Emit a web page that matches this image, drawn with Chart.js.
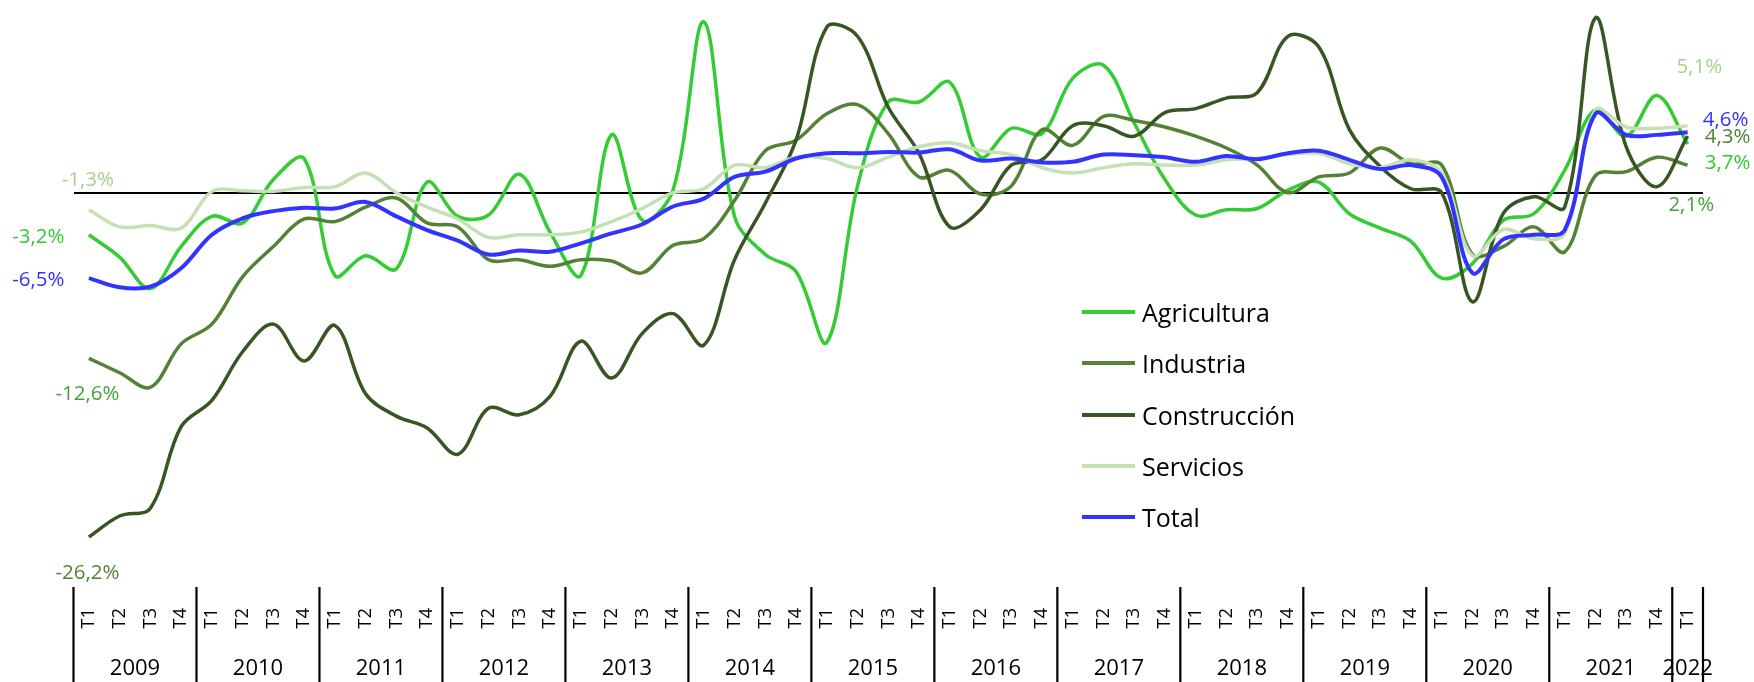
<!DOCTYPE html>
<html lang="es">
<head>
<meta charset="utf-8">
<title>Ocupados por sector (variación interanual)</title>
<script src="https://cdn.jsdelivr.net/npm/chart.js@4.4.1/dist/chart.umd.min.js"></script>
<style>
  html, body { margin: 0; padding: 0; background: #fff; }
  #wrap { position: relative; width: 1754px; height: 682px; }
  #legend { position: absolute; left: 1082px; top: 286.8px; font-family: 'Open Sans', sans-serif; font-size: 25px; color: #000; }
  #legend .item { display: flex; align-items: center; height: 51.1px; white-space: nowrap; }
  #legend .line { display: inline-block; width: 53px; height: 4px; margin-right: 7px; }
</style>
</head>
<body>
<div id="wrap">
  <canvas id="chart"></canvas>
  <div id="legend"></div>
</div>
<script>
// ================= DATOS =================
const years = ['2009', '2010', '2011', '2012', '2013', '2014', '2015', '2016', '2017', '2018', '2019', '2020', '2021', '2022'];
const quarterNames = ['T1', 'T2', 'T3', 'T4'];
const quartersInYear = [4, 4, 4, 4, 4, 4, 4, 4, 4, 4, 4, 4, 4, 1];

const seriesNames = ['Agricultura', 'Industria', 'Construcción', 'Servicios', 'Total'];

const agricultura = [
  -3.2, -4.9, -7.3, -4.1, -1.8, -2.3, 1.0, 2.6, -6.3, -4.8, -5.8, 0.8, -1.8, -1.7, 1.4, -3.0,
  -6.3, 4.4, -2.1, 0.2, 13.0, -1.8, -4.7, -6.0, -11.4, 0.5, 6.9, 6.9, 8.4, 2.7, 4.9, 4.5,
  8.7, 9.7, 5.3, 1.0, -1.7, -1.3, -1.2, 0.2, 0.8, -1.6, -2.7, -3.7, -6.5, -5.4, -2.1, -1.6,
  1.7, 6.3, 4.3, 7.4, 3.7
];
const industria = [
  -12.6, -13.7, -14.8, -11.5, -10.0, -6.4, -4.1, -2.0, -2.2, -1.1, -0.4, -2.3, -2.6, -5.1, -5.1, -5.6,
  -5.1, -5.2, -6.1, -4.0, -3.5, -0.6, 3.2, 4.0, 6.0, 6.7, 4.5, 1.2, 1.7, -0.1, 0.5, 4.8,
  3.6, 5.8, 5.5, 5.0, 4.3, 3.4, 2.1, 0.0, 1.2, 1.5, 3.4, 2.2, 2.1, -4.7, -4.1, -2.6,
  -4.5, 1.3, 1.6, 2.7, 2.1
];
const construccion = [
  -26.2, -24.6, -24.0, -17.8, -15.8, -12.1, -10.0, -12.8, -10.1, -15.3, -17.0, -17.9, -19.9, -16.4, -16.9, -15.5,
  -11.3, -14.1, -10.7, -9.2, -11.6, -5.1, -0.8, 4.0, 12.6, 11.9, 6.5, 3.0, -2.6, -1.3, 2.1, 2.5,
  5.1, 5.1, 4.3, 6.1, 6.4, 7.2, 7.6, 11.9, 11.1, 4.8, 2.0, 0.3, 0.0, -8.3, -1.6, -0.3,
  -1.1, 13.3, 3.5, 0.45, 4.3
];
const servicios = [
  -1.3, -2.6, -2.5, -2.7, 0.1, 0.15, 0.1, 0.4, 0.45, 1.5, 0.0, -1.1, -2.0, -3.4, -3.2, -3.2,
  -3.0, -2.2, -1.2, 0.0, 0.3, 2.1, 1.9, 2.7, 2.6, 1.9, 2.7, 3.5, 3.8, 3.2, 2.9, 1.9,
  1.5, 1.9, 2.2, 2.1, 2.1, 2.5, 2.6, 2.9, 3.0, 2.2, 1.9, 2.5, 1.5, -4.8, -2.8, -3.5,
  -3.1, 6.3, 5.0, 4.9, 5.1
];
const total = [
  -6.5, -7.2, -7.15, -5.75, -3.2, -1.95, -1.4, -1.15, -1.2, -0.7, -1.8, -2.85, -3.65, -4.7, -4.4, -4.5,
  -3.85, -3.1, -2.4, -1.05, -0.45, 1.2, 1.6, 2.6, 3.0, 3.0, 3.1, 3.05, 3.3, 2.45, 2.6, 2.3,
  2.35, 2.9, 2.85, 2.7, 2.35, 2.8, 2.55, 3.0, 3.2, 2.5, 1.8, 2.1, 1.2, -6.1, -3.55, -3.2,
  -2.85, 6.0, 4.4, 4.4, 4.6
];

// etiquetas T1..T4 por trimestre
const trimestres = [];
years.forEach((y, i) => {
  for (let q = 0; q < quartersInYear[i]; q++) trimestres.push(quarterNames[q]);
});

// ================= ESTILOS =================
const colores = ['#33cc33', '#548235', '#375623', '#c5e0b4', '#3333ff'];
const grosores = [3.5, 3.5, 3.5, 3.5, 4];
const FONT = "'Open Sans', sans-serif";

Chart.defaults.font.family = FONT;
Chart.defaults.color = '#000';

// etiquetas de valor: serie, punto (primero/último), desplazamiento y color
const etiquetas = [
  { serie: 3, punto: 0, dx: -1, dy: -30, color: '#a9d18e' },
  { serie: 0, punto: 0, dx: -50.6, dy: 2.5, color: '#33cc33' },
  { serie: 4, punto: 0, dx: -50.6, dy: 2, color: '#3333ff' },
  { serie: 1, punto: 0, dx: -1.4, dy: 35.7, color: '#43a33b' },
  { serie: 2, punto: 0, dx: -1.4, dy: 36, color: '#548235' },
  { serie: 3, punto: -1, dx: 11.6, dy: -58.4, color: '#a9d18e' },
  { serie: 4, punto: -1, dx: 38, dy: -12.2, color: '#3333ff' },
  { serie: 2, punto: -1, dx: 40, dy: 0.5, color: '#548235' },
  { serie: 0, punto: -1, dx: 40, dy: 19.2, color: '#33cc33' },
  { serie: 1, punto: -1, dx: 3.6, dy: 40, color: '#43a33b' }
];

function formatoPct(v) {
  return v.toFixed(1).replace('.', ',') + '%';
}

// ================= PLUGIN: años, separadores y etiquetas =================
const decoracion = {
  id: 'decoracion',
  afterDatasetsDraw(chart) {
    const ctx = chart.ctx;
    ctx.save();
    ctx.font = '20.5px ' + FONT;
    ctx.textAlign = 'center';
    ctx.textBaseline = 'middle';
    etiquetas.forEach(e => {
      const meta = chart.getDatasetMeta(e.serie);
      const data = chart.data.datasets[e.serie].data;
      const idx = e.punto < 0 ? data.length - 1 : e.punto;
      const pt = meta.data[idx];
      ctx.fillStyle = e.color;
      ctx.fillText(formatoPct(data[idx]), pt.x + e.dx, pt.y + e.dy);
    });
    ctx.restore();
  },
  afterDraw(chart) {
    const { ctx, chartArea, scales: { x } } = chart;
    const half = (x.getPixelForValue(1) - x.getPixelForValue(0)) / 2;
    ctx.save();
    ctx.strokeStyle = '#000';
    ctx.lineWidth = 2.2;
    ctx.fillStyle = '#000';
    ctx.font = '22px ' + FONT;
    ctx.textAlign = 'center';
    ctx.textBaseline = 'middle';
    let start = 0;
    years.forEach((y, i) => {
      const end = start + quartersInYear[i] - 1;
      const left = x.getPixelForValue(start) - half;
      ctx.beginPath();
      ctx.moveTo(left, chartArea.bottom);
      ctx.lineTo(left, chart.height);
      ctx.stroke();
      ctx.fillText(y, (x.getPixelForValue(start) + x.getPixelForValue(end)) / 2, 669);
      start = end + 1;
    });
    const right = x.getPixelForValue(trimestres.length - 1) + half;
    ctx.beginPath();
    ctx.moveTo(right, chartArea.bottom);
    ctx.lineTo(right, chart.height);
    ctx.stroke();
    ctx.restore();
  }
};

// ================= GRÁFICO =================
const series = [agricultura, industria, construccion, servicios, total];

const chart = new Chart(document.getElementById('chart'), {
  type: 'line',
  data: {
    labels: trimestres,
    datasets: series.map((d, i) => ({
      label: seriesNames[i],
      data: d,
      borderColor: colores[i],
      backgroundColor: colores[i],
      borderWidth: grosores[i],
      pointRadius: 0,
      tension: 0.35,
      fill: false,
      order: series.length - i // Total encima
    }))
  },
  options: {
    responsive: true,
    maintainAspectRatio: false,
    animation: false,
    devicePixelRatio: 1,
    layout: { padding: { top: 8.7, right: 51, left: 0, bottom: 0 } },
    plugins: {
      legend: { display: false },
      tooltip: { enabled: false }
    },
    scales: {
      x: {
        offset: true,
        grid: { display: false, drawTicks: false },
        border: { display: false },
        ticks: { autoSkip: false, minRotation: 90, maxRotation: 90, padding: 21, font: { size: 18.5 }, color: '#000' },
        afterFit: s => { s.height = 95; }
      },
      y: {
        min: -30,
        max: 14,
        ticks: { display: false, stepSize: 2 },
        border: { display: false },
        grid: {
          drawTicks: false,
          lineWidth: 2,
          color: c => (c.tick && c.tick.value === 0 ? '#000' : 'rgba(0,0,0,0)')
        },
        afterFit: s => { s.width = 73.5; }
      }
    }
  },
  plugins: [decoracion]
});

// Leyenda en HTML, a partir de los datasets
const legend = document.getElementById('legend');
chart.data.datasets.forEach(ds => {
  const item = document.createElement('div');
  item.className = 'item';
  item.innerHTML = `<span class="line" style="background:${ds.borderColor}"></span><span>${ds.label}</span>`;
  legend.appendChild(item);
});
</script>
</body>
</html>
